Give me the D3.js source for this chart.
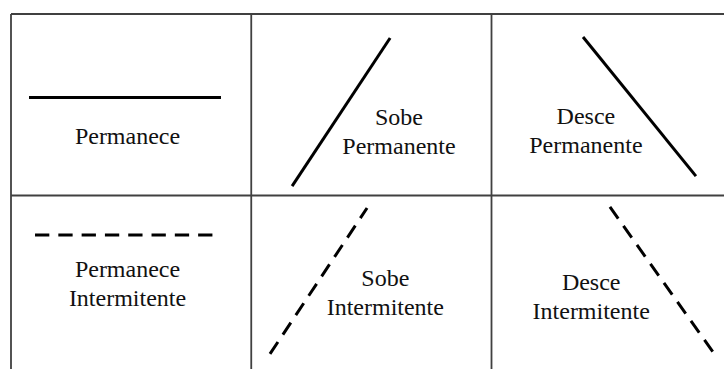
<!DOCTYPE html>
<html>
<head>
<meta charset="utf-8">
<script src="https://cdn.jsdelivr.net/npm/d3@7"></script>
<style>
  html, body { margin: 0; padding: 0; background: #fff; }
  svg { display: block; }
</style>
</head>
<body>
<div id="chart"></div>
<script>
// ---- data ----
const trends = ["Permanece", "Sobe", "Desce"];          // columns
const modes = ["Permanente", "Intermitente"];            // rows
// cell labels (lines of text) by row, then column
const labelsRow1 = [["Permanece"], ["Sobe", "Permanente"], ["Desce", "Permanente"]];
const labelsRow2 = [["Permanece", "Intermitente"], ["Sobe", "Intermitente"], ["Desce", "Intermitente"]];
// trend line start/end in cell units (x: 0..1 left→right, y: 0..1 top→bottom)
const lineStartX = [[0.075, 0.170, 0.381], [0.100, 0.078, 0.493]];
const lineEndX   = [[0.874, 0.578, 0.851], [0.841, 0.482, 0.922]];
const lineStartY = [[0.460, 0.948, 0.127], [0.218, 0.873, 0.063]];
const lineEndY   = [[0.460, 0.132, 0.893], [0.218, 0.069, 0.862]];
// label anchor (centre x, first baseline y) in cell units
const labelX = [[0.485, 0.615, 0.393], [0.485, 0.558, 0.415]];
const labelY = [[0.716, 0.612, 0.606], [0.447, 0.499, 0.521]];

// ---- layout ----
const W = 724, H = 369;
const gLeft = 11, gTop = 14, colW = 240.25, rowH = 181.5;
const x = d3.scaleLinear().domain([0, trends.length]).range([gLeft, gLeft + trends.length * colW]);
const y = d3.scaleLinear().domain([0, modes.length]).range([gTop, gTop + modes.length * rowH]);
const lineGap = 29;

const svg = d3.select("#chart").append("svg")
  .attr("width", W).attr("height", H);

// grid
const grid = svg.append("g").attr("stroke", "#404040").attr("stroke-width", 1.8).attr("fill", "none");
d3.range(trends.length + 1).forEach(i => {
  grid.append("line").attr("x1", x(i)).attr("x2", x(i)).attr("y1", y(0)).attr("y2", y(modes.length));
});
d3.range(modes.length + 1).forEach(j => {
  grid.append("line").attr("x1", x(0)).attr("x2", x(trends.length)).attr("y1", y(j)).attr("y2", y(j));
});

const cells = [];
modes.forEach((m, r) => {
  trends.forEach((t, c) => {
    cells.push({
      r, c,
      labels: (r === 0 ? labelsRow1 : labelsRow2)[c],
      x0: lineStartX[r][c], x1: lineEndX[r][c],
      y0: lineStartY[r][c], y1: lineEndY[r][c],
      lx: labelX[r][c], ly: labelY[r][c],
      dashed: m === "Intermitente"
    });
  });
});

svg.append("g").selectAll("line").data(cells).join("line")
  .attr("x1", d => x(d.c + d.x0)).attr("x2", d => x(d.c + d.x1))
  .attr("y1", d => y(d.r + d.y0)).attr("y2", d => y(d.r + d.y1))
  .attr("stroke", "#000").attr("stroke-width", 3)
  .attr("stroke-dasharray", d => d.dashed ? "14.3,9" : null);

const txt = svg.append("g").selectAll("text").data(cells).join("text")
  .style("font-family", '"Liberation Serif"')
  .style("font-size", "24px")
  .attr("x", d => x(d.c + d.lx))
  .attr("y", d => y(d.r + d.ly))
  .attr("text-anchor", "middle")
  .attr("fill", "#111");
txt.each(function(d) {
  d3.select(this).selectAll("tspan").data(d.labels).join("tspan")
    .attr("x", x(d.c + d.lx))
    .attr("dy", (s, i) => i === 0 ? 0 : lineGap)
    .text(s => s);
});
</script>
</body>
</html>
